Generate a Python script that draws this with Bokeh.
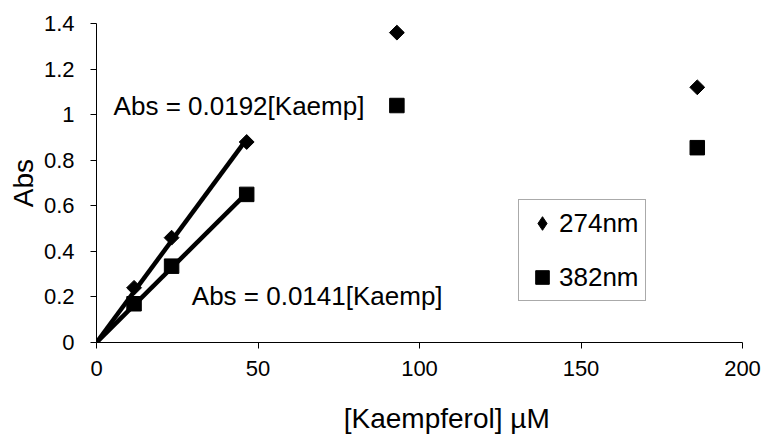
import numpy as np
from bokeh.plotting import figure
from bokeh.models import Range1d, Legend, LegendItem, Label, FixedTicker
from bokeh.embed import file_html
from bokeh.resources import INLINE

# Kaempferol concentrations (µM) and absorbance at two wavelengths
conc = [11.625, 23.25, 46.5, 93, 186]
abs_274 = [0.24, 0.46, 0.88, 1.36, 1.12]
abs_382 = [0.17, 0.335, 0.65, 1.04, 0.855]

# Linear fits through the origin over the linear range
slope_274 = 0.0192
slope_382 = 0.0141
fit_x = [0, 46.5]

x_ticks = [0, 50, 100, 150, 200]
y_ticks = [0, 0.2, 0.4, 0.6, 0.8, 1.0, 1.2, 1.4]
y_tick_labels = ["0", "0.2", "0.4", "0.6", "0.8", "1", "1.2", "1.4"]

FONT = "Liberation Sans"

p = figure(width=765, height=436, output_backend="svg", toolbar_location=None,
           x_range=Range1d(0, 200), y_range=Range1d(0, 1.4),
           min_border_left=96, min_border_right=23, min_border_top=23, min_border_bottom=94)
p.outline_line_color = None
p.grid.visible = False
p.background_fill_color = "white"
p.border_fill_color = "white"

for ax in (p.xaxis[0], p.yaxis[0]):
    ax.axis_line_color = "black"
    ax.axis_line_width = 1
    ax.major_tick_line_color = "black"
    ax.major_tick_out = 6
    ax.major_tick_in = 0
    ax.minor_tick_line_color = None
    ax.major_label_text_font = FONT
    ax.major_label_text_font_size = "22px"
    ax.major_label_text_color = "black"
    ax.axis_label_text_font = FONT
    ax.axis_label_text_font_size = "28px"
    ax.axis_label_text_font_style = "normal"
    ax.axis_label_text_color = "black"

p.xaxis.ticker = FixedTicker(ticks=x_ticks)
p.xaxis.major_label_standoff = 12
# leading no-break spaces shift the centred title a little to the right
p.xaxis.axis_label = "\u00a0" * 7 + "[Kaempferol] µM"
p.xaxis.axis_label_standoff = 24

p.yaxis.ticker = FixedTicker(ticks=y_ticks)
p.yaxis.major_label_overrides = {t: s for t, s in zip(y_ticks, y_tick_labels)}
p.yaxis.major_label_standoff = 16
p.yaxis.axis_label = "Abs"
p.yaxis.axis_label_standoff = 2

# Fitted lines
p.line(fit_x, [slope_274 * x for x in fit_x], line_color="black", line_width=4.5)
p.line(fit_x, [slope_382 * x for x in fit_x], line_color="black", line_width=4.5)

# Measured points (274 nm drawn as squares turned 45 degrees)
r274 = p.scatter(conc, abs_274, marker="square", angle=np.pi / 4, size=10.5,
                 fill_color="black", line_color="black")
r382 = p.scatter(conc, abs_382, marker="square", size=14.5,
                 fill_color="black", line_color="black")

# Legend keys: the legend does not rotate markers, so the 274 nm key uses a hidden diamond
key274 = p.scatter(conc, abs_274, marker="diamond", size=14,
                   fill_color="black", line_color="black", visible=False)

# Fit equations
p.add_layout(Label(x=5.3, y=1.037, text=f"Abs = {slope_274}[Kaemp]", text_font=FONT,
                   text_font_size="26px", text_color="black", text_baseline="alphabetic"))
p.add_layout(Label(x=29.5, y=0.206, text=f"Abs = {slope_382}[Kaemp]", text_font=FONT,
                   text_font_size="26px", text_color="black", text_baseline="alphabetic"))

legend = Legend(items=[LegendItem(label="274nm", renderers=[key274]),
                       LegendItem(label="382nm", renderers=[r382])],
                location=(422, 41), margin=0, padding=6, spacing=20,
                glyph_width=34, glyph_height=34, label_standoff=0,
                label_text_font=FONT, label_text_font_size="26px", label_text_color="black",
                border_line_color="#555555", border_line_width=1,
                background_fill_color="white", background_fill_alpha=1,
                inactive_fill_alpha=0, click_policy="none")
p.add_layout(legend, "center")

open("out.html", "w").write(file_html(p, INLINE))
